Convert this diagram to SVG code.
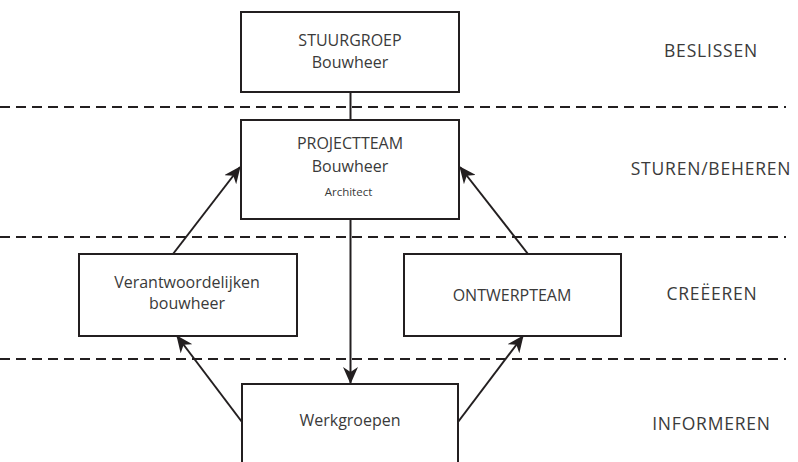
<svg xmlns="http://www.w3.org/2000/svg" width="798" height="462" viewBox="0 0 798 462">
<style>
.box{fill:#fff;stroke:#231f20;stroke-width:2}
.dash{stroke:#231f20;stroke-width:2.2;stroke-dasharray:10 6;fill:none}
.con{stroke:#231f20;stroke-width:2;fill:none}
text{font-family:"Open Sans","Noto Sans","DejaVu Sans",sans-serif;fill:#3a3a3a;text-anchor:middle}
.t{font-size:16px}
.s{font-size:11.5px}
.lab{font-size:17.5px;letter-spacing:0.8px}
</style>
<defs>
<marker id="ah" markerUnits="userSpaceOnUse" markerWidth="17" markerHeight="15" refX="16" refY="7.5" orient="auto" viewBox="0 0 17 15">
<path d="M0,0 L17,7.5 L0,15 L5,7.5 Z" fill="#231f20"/>
</marker>
</defs>
<g id="dividers">
<line class="dash" x1="0" y1="107" x2="786" y2="107"/>
<line class="dash" x1="0" y1="237" x2="786" y2="237"/>
<line class="dash" x1="0" y1="359" x2="786" y2="359"/>
</g>
<g id="connectors">
<line class="con" x1="350.5" y1="92" x2="350.5" y2="120"/>
<line class="con" x1="350.5" y1="219" x2="350.5" y2="383" marker-end="url(#ah)"/>
<line class="con" x1="173" y1="254" x2="240" y2="167" marker-end="url(#ah)"/>
<line class="con" x1="528" y1="254" x2="460" y2="167" marker-end="url(#ah)"/>
<line class="con" x1="242" y1="422" x2="177" y2="336" marker-end="url(#ah)"/>
<line class="con" x1="458" y1="422" x2="523" y2="336" marker-end="url(#ah)"/>
</g>
<g id="stuurgroep">
<rect class="box" x="241" y="12" width="218" height="80"/>
<text class="t" x="350" y="46">STUURGROEP</text>
<text class="t" x="350" y="68">Bouwheer</text>
</g>
<g id="projectteam">
<rect class="box" x="241" y="120" width="218" height="99"/>
<text class="t" x="350" y="149">PROJECTTEAM</text>
<text class="t" x="350" y="172">Bouwheer</text>
<text class="s" x="348.5" y="196">Architect</text>
</g>
<g id="verantwoordelijken">
<rect class="box" x="79" y="254" width="218" height="82"/>
<text class="t" x="187" y="288">Verantwoordelijken</text>
<text class="t" x="187" y="309">bouwheer</text>
</g>
<g id="ontwerpteam">
<rect class="box" x="404" y="254" width="217" height="82"/>
<text class="t" x="512" y="301">ONTWERPTEAM</text>
</g>
<g id="werkgroepen">
<rect class="box" x="242" y="384" width="216" height="90"/>
<text class="t" x="350" y="426">Werkgroepen</text>
</g>
<g id="labels">
<text class="lab" x="711" y="57">BESLISSEN</text>
<text class="lab" x="711" y="175">STUREN/BEHEREN</text>
<text class="lab" x="712" y="300">CREËEREN</text>
<text class="lab" x="711.5" y="430">INFORMEREN</text>
</g>
</svg>
